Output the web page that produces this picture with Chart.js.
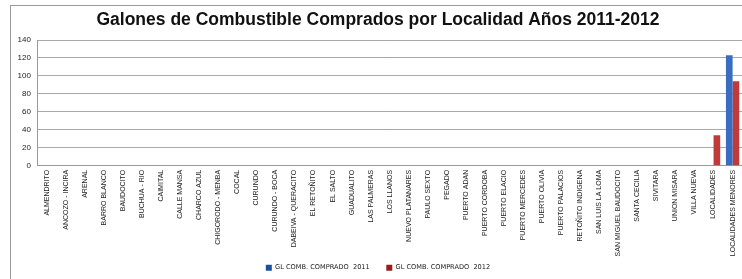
<!DOCTYPE html>
<html>
<head>
<meta charset="utf-8">
<script src="https://cdn.jsdelivr.net/npm/chart.js@4"></script>
<style>
  body { margin: 0; background: #fff; width: 742px; height: 279px; overflow: hidden; position: relative; }
  .frame { position: absolute; left: 10px; top: 5px; width: 740px; height: 280px;
           border-top: 1px solid #999; border-left: 1px solid #999; }
  .wrap { position: absolute; left: 11px; top: 6px; width: 734px; height: 273px; }
</style>
</head>
<body>
<div class="frame"></div>
<div class="wrap"><canvas id="chart"></canvas></div>
<script>
// Localidades (eje x)
const localidades = [
  'ALMENDRITO', 'ANCOZO - INCIRA', 'ARENAL', 'BARRO BLANCO', 'BAUDOCITO',
  'BUCHUA - RIO', 'CAIMITAL', 'CALLE MANSA', 'CHARCO AZUL', 'CHIGORODO - MENBA',
  'COCAL', 'CURUNDO', 'CURUNDO - BOCA', 'DABEIVA - QUERACITO', 'EL RETOÑITO',
  'EL SALTO', 'GUADUALITO', 'LAS PALMERAS', 'LOS LLANOS', 'NUEVO PLATANARES',
  'PAULO SEXTO', 'PEGADO', 'PUERTO ADAN', 'PUERTO CORDOBA', 'PUERTO ELACIO',
  'PUERTO MERCEDES', 'PUERTO OLIVIA', 'PUERTO PALACIOS', 'RETOÑITO INDIGENA',
  'SAN LUIS LA LOMA', 'SAN MIGUEL BAUDOCITO', 'SANTA CECILIA', 'SIVITARA',
  'UNION MISARA', 'VILLA NUEVA', 'LOCALIDADES', 'LOCALIDADES MENORES'
];

// Galones comprados
const comprado2011 = [0,0,0,0,0,0,0,0,0,0,0,0,0,0,0,0,0,0,0,0,0,0,0,0,0,0,0,0,0,0,0,0,0,0,0,0,123];
const comprado2012 = [0,0,0,0,0,0,0,0,0,0,0,0,0,0,0,0,0,0,0,0,0,0,0,0,0,0,0,0,0,0,0,0,0,0,0,34,94];

const serieNombres = ['GL COMB. COMPRADO  2011', 'GL COMB. COMPRADO  2012'];
const yTicks = [0, 20, 40, 60, 80, 100, 120, 140];

// gradiente tipo cilindro para cada barra
function cylinder(base, light, dark) {
  return function(ctx) {
    const el = ctx.element;
    if (!el || !el.width) return base;
    const g = ctx.chart.ctx.createLinearGradient(el.x - el.width / 2, 0, el.x + el.width / 2, 0);
    g.addColorStop(0, dark);
    g.addColorStop(0.45, light);
    g.addColorStop(1, dark);
    return g;
  };
}

new Chart(document.getElementById('chart'), {
  type: 'bar',
  data: {
    labels: localidades,
    datasets: [
      {
        label: serieNombres[0],
        data: comprado2011,
        backgroundColor: cylinder('#3a6cc0', '#6e9be0', '#1f4e9a'),
        borderWidth: 0
      },
      {
        label: serieNombres[1],
        data: comprado2012,
        backgroundColor: cylinder('#c03a3a', '#e06a6a', '#951f1f'),
        borderWidth: 0
      }
    ]
  },
  options: {
    responsive: true,
    maintainAspectRatio: false,
    animation: false,
    layout: { padding: { left: 0, right: 0, top: 0, bottom: -2 } },
    datasets: { bar: { categoryPercentage: 0.7, barPercentage: 1.0 } },
    scales: {
      x: {
        grid: { display: false, drawTicks: false },
        border: { color: '#999' },
        ticks: {
          minRotation: 90,
          maxRotation: 90,
          autoSkip: false,
          padding: 4,
          color: '#222',
          font: { family: 'Liberation Sans, Arial, sans-serif', size: 7 }
        }
      },
      y: {
        min: 0,
        max: 140,
        afterBuildTicks: (axis) => { axis.ticks = yTicks.map(v => ({ value: v })); },
        grid: { color: '#a8a8a8', drawTicks: false },
        border: { color: '#999' },
        ticks: {
          autoSkip: false,
          padding: 6.5,
          color: '#222',
          font: { family: 'Liberation Sans, Arial, sans-serif', size: 8 }
        }
      }
    },
    plugins: {
      title: {
        display: true,
        text: 'Galones de Combustible Comprados por Localidad Años 2011-2012',
        color: '#111',
        font: { family: 'Liberation Sans, Arial, sans-serif', size: 17.5, weight: 'bold' },
        padding: { top: 4, bottom: 9 }
      },
      legend: {
        position: 'bottom',
        labels: {
          boxWidth: 6,
          boxHeight: 6,
          padding: 4,
          color: '#222',
          font: { family: 'DejaVu Sans, Verdana, sans-serif', size: 6.6 },
          generateLabels: (chart) => {
            // separación más amplia entre las dos series, como en el original
            const items = Chart.defaults.plugins.legend.labels.generateLabels(chart);
            items.forEach((it, i) => { if (i === 0) it.text = it.text + '      '; });
            return items;
          }
        }
      },
      tooltip: { enabled: false }
    }
  }
});
</script>
</body>
</html>
